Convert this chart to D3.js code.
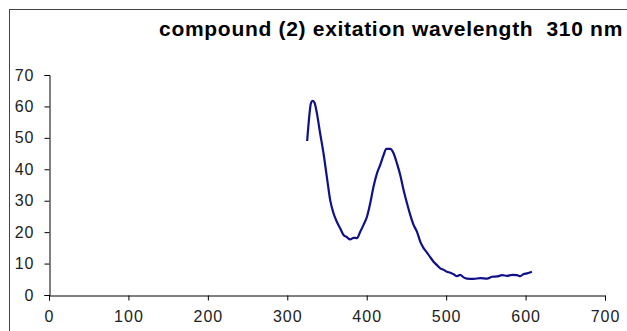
<!DOCTYPE html>
<html><head><meta charset="utf-8">
<script src="https://cdn.jsdelivr.net/npm/d3@7"></script>
<style>body{margin:0;background:#fff;}svg{display:block;font-family:"Liberation Sans",Arial,sans-serif;}</style>
</head><body><div id="chart"></div>
<script>
const titleText = "compound (2) exitation wavelength  310 nm";
const xTicks = [0,100,200,300,400,500,600,700];
const yTicks = [0,10,20,30,40,50,60,70];
const wavelength = [325,327.6,329.7,331.8,334.3,337.3,341.4,345.6,349.8,354,358.2,362.4,366.6,370.8,375,379.2,383.4,387.6,391.8,396,400.3,404.4,408.6,412.9,417,421.2,424.6,429.6,433.8,438,442.2,446.4,450.7,454.8,459,463.3,467.4,471.6,475.9,480,484.2,488.4,492.6,496.8,501,505.2,509.4,513.7,517.8,522,526.2,534.6,543,551.5,557.8,564,570.4,576.7,583,589.3,593.4,597.6,601.9,608];
const intensity = [49,56.7,61,61.8,61.2,57.8,51.4,45.1,37.6,30.2,26,23.3,21.2,19.1,18.4,17.7,18.2,18.1,20.1,22.3,24.9,29.2,34.5,38.7,41.4,44.5,46.5,46.5,45.1,41.9,38.2,33.4,29.2,25.5,22.3,20.1,17,14.9,13.5,12,10.6,9.5,8.5,8,7.4,7.1,6.6,6,6.4,5.6,5.2,5.1,5.4,5.2,5.8,5.9,6.3,6.1,6.4,6.3,6.0,6.7,6.9,7.4];

const W = 627, H = 331;
const svg = d3.select("#chart").append("svg").attr("width", W).attr("height", H);
// outer frame
svg.append("rect").attr("x",9.5).attr("y",9.5).attr("width",700).attr("height",400)
  .attr("fill","none").attr("stroke","#444").attr("stroke-width",1);

const x = d3.scaleLinear().domain([0,700]).range([49,605]);
const y = d3.scaleLinear().domain([0,70]).range([295,75]);

svg.append("text").attr("x",623).attr("y",36).attr("text-anchor","end")
  .attr("font-weight","bold").attr("font-size",21).attr("letter-spacing","0.7px")
  .style("white-space","pre").attr("fill","#000").text(titleText);

const gx = svg.append("g").attr("transform","translate(0,295.5)")
  .call(d3.axisBottom(x).tickValues(xTicks).tickSize(5).tickPadding(10).tickFormat(d3.format("d")));
const gy = svg.append("g").attr("transform","translate(49.5,0)")
  .call(d3.axisLeft(y).tickValues(yTicks).tickSize(5).tickPadding(10).tickFormat(d3.format("d")));
[gx,gy].forEach(g=>{
  g.select(".domain").attr("stroke","#000");
  g.selectAll(".tick line").attr("stroke","#000");
  g.selectAll(".tick text").attr("font-size",16).attr("fill","#222").attr("letter-spacing","1px")
    .attr("font-family","Liberation Sans, Arial, sans-serif");
});

const pts = wavelength.map((w,i)=>[w,intensity[i]]);
const line = d3.line().x(d=>x(d[0])).y(d=>y(d[1])).curve(d3.curveMonotoneX);
svg.append("path").datum(pts).attr("d",line).attr("fill","none")
  .attr("stroke","#10108a").attr("stroke-width",2.2);
</script></body></html>
